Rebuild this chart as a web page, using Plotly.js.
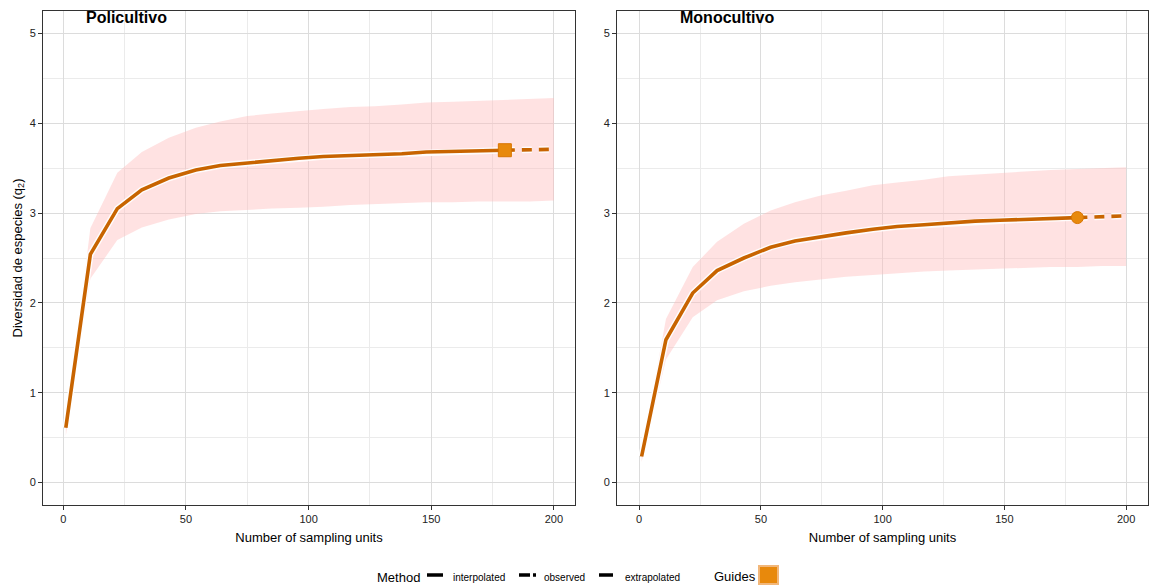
<!DOCTYPE html>
<html><head><meta charset="utf-8">
<script src="https://cdn.plot.ly/plotly-3.0.1.min.js"></script>
<style>html,body{margin:0;padding:0;background:#fff}#chart{width:1153px;height:586px}</style>
</head><body><div id="chart"></div>
<script>
// ---- data ----
const panelTitles = ['Policultivo', 'Monocultivo'];
const sizeInterp = [1, 11, 22, 32, 43, 54, 64, 75, 85, 96, 106, 117, 127, 138, 148, 159, 169, 180];
const sizeExtrap = [180, 190, 200];
const sizeBand = [1, 11, 22, 32, 43, 54, 64, 75, 85, 96, 106, 117, 127, 138, 148, 159, 169, 180, 190, 200];

const poliInterp = [0.61, 2.54, 3.05, 3.26, 3.39, 3.48, 3.53, 3.56, 3.59, 3.61, 3.63, 3.64, 3.65, 3.66, 3.68, 3.69, 3.70, 3.70];
const poliExtrap = [3.70, 3.71, 3.71];
const poliLower = [0.52, 2.27, 2.70, 2.84, 2.93, 2.99, 3.02, 3.04, 3.05, 3.06, 3.07, 3.09, 3.10, 3.11, 3.12, 3.12, 3.13, 3.13, 3.13, 3.14];
const poliUpper = [0.63, 2.83, 3.45, 3.68, 3.84, 3.95, 4.02, 4.08, 4.11, 4.14, 4.16, 4.18, 4.19, 4.21, 4.23, 4.24, 4.25, 4.26, 4.27, 4.28];

const monoInterp = [0.29, 1.59, 2.11, 2.36, 2.50, 2.62, 2.69, 2.74, 2.78, 2.82, 2.85, 2.87, 2.89, 2.91, 2.92, 2.93, 2.94, 2.95];
const monoExtrap = [2.95, 2.96, 2.97];
const monoLower = [0.23, 1.37, 1.84, 2.03, 2.13, 2.19, 2.23, 2.26, 2.29, 2.31, 2.33, 2.35, 2.36, 2.37, 2.38, 2.39, 2.40, 2.40, 2.41, 2.41];
const monoUpper = [0.33, 1.82, 2.40, 2.68, 2.88, 3.03, 3.12, 3.20, 3.25, 3.31, 3.34, 3.37, 3.41, 3.43, 3.45, 3.47, 3.48, 3.49, 3.50, 3.51];

const observedSize = [180, 180];
const observedValue = [3.70, 2.95];
const observedSymbol = ['square', 'circle'];

const xTickVals = [0, 50, 100, 150, 200];
const yTickVals = [0, 1, 2, 3, 4, 5];
const methodLabels = ['interpolated', 'observed', 'extrapolated'];
const legendTitle = 'Method';
const guidesTitle = 'Guides';
const xTitle = 'Number of sampling units';
const yTitle = 'Diversidad de especies (q<sub>2</sub>)';

// ---- style ----
const FONT = 'Liberation Sans, Arial, sans-serif';
const LINE = '#C86400';
const PT = '#E8890C';
const BAND = 'rgba(255,185,185,0.42)';

const W = 1153, H = 586, ML = 43, MR = 5, MT = 11, MB = 81;
const PW = W - ML - MR, PH = H - MT - MB;
const px2x = p => (p - ML) / PW;
const px2y = p => (H - MB - p) / PH;

const series = [
  {interp: poliInterp, extrap: poliExtrap, lo: poliLower, hi: poliUpper},
  {interp: monoInterp, extrap: monoExtrap, lo: monoLower, hi: monoUpper}
];

const traces = [];
series.forEach((s, i) => {
  const xa = i === 0 ? 'x' : 'x2', ya = i === 0 ? 'y' : 'y2';
  traces.push({x: sizeBand, y: s.lo, xaxis: xa, yaxis: ya, mode: 'lines', line: {width: 0, color: 'rgba(0,0,0,0)'}, showlegend: false, hoverinfo: 'skip'});
  traces.push({x: sizeBand, y: s.hi, xaxis: xa, yaxis: ya, mode: 'lines', fill: 'tonexty', fillcolor: BAND, line: {width: 0, color: 'rgba(0,0,0,0)'}, showlegend: false, hoverinfo: 'skip'});
  // white halo
  traces.push({x: sizeInterp, y: s.interp, xaxis: xa, yaxis: ya, mode: 'lines', line: {width: 6.5, color: 'rgba(255,255,255,0.9)'}, showlegend: false, hoverinfo: 'skip'});
  traces.push({x: sizeExtrap, y: s.extrap, xaxis: xa, yaxis: ya, mode: 'lines', line: {width: 6.5, color: 'rgba(255,255,255,0.9)', dash: '10px,7px'}, showlegend: false, hoverinfo: 'skip'});
  traces.push({x: sizeInterp, y: s.interp, xaxis: xa, yaxis: ya, mode: 'lines', name: methodLabels[0], line: {width: 3.6, color: LINE}, showlegend: false});
  traces.push({x: sizeExtrap, y: s.extrap, xaxis: xa, yaxis: ya, mode: 'lines', name: methodLabels[2], line: {width: 3.6, color: LINE, dash: '10px,7px'}, showlegend: false});
  traces.push({x: [observedSize[i]], y: [observedValue[i]], xaxis: xa, yaxis: ya, mode: 'markers', name: methodLabels[1],
    marker: {symbol: observedSymbol[i], size: i === 0 ? 13 : 12, color: PT, line: {color: '#D87400', width: 1}}, showlegend: false});
});

const axisCommon = {
  showline: true, mirror: true, linecolor: '#333', linewidth: 1,
  ticks: 'outside', ticklen: 4, tickcolor: '#333', tickwidth: 1,
  showgrid: true, gridcolor: '#dcdcdc', gridwidth: 1, zeroline: false,
  tickfont: {family: FONT, size: 11, color: '#222'}
};
const xaxisBase = Object.assign({}, axisCommon, {tickvals: xTickVals, minor: {dtick: 25, tick0: 0, showgrid: true, gridcolor: '#ebebeb', gridwidth: 1, ticks: ''}});
const yaxisBase = Object.assign({}, axisCommon, {tickvals: yTickVals, range: [-0.25, 5.25], minor: {dtick: 0.5, tick0: 0, showgrid: true, gridcolor: '#ebebeb', gridwidth: 1, ticks: ''}});

const layout = {
  width: W, height: H,
  margin: {l: ML, r: MR, t: MT, b: MB},
  paper_bgcolor: '#fff', plot_bgcolor: '#fff',
  font: {family: FONT, color: '#000'},
  showlegend: false,
  xaxis: Object.assign({}, xaxisBase, {domain: [0, px2x(575)], range: [-8.3, 208.6], anchor: 'y',
    title: {text: xTitle, font: {family: FONT, size: 13, color: '#000'}, standoff: 8}}),
  xaxis2: Object.assign({}, xaxisBase, {domain: [px2x(617), 1], range: [-9.1, 209], anchor: 'y2',
    title: {text: xTitle, font: {family: FONT, size: 13, color: '#000'}, standoff: 8}}),
  yaxis: Object.assign({}, yaxisBase, {domain: [0, 1], anchor: 'x',
    title: {text: yTitle, font: {family: FONT, size: 13, color: '#000'}, standoff: 4}}),
  yaxis2: Object.assign({}, yaxisBase, {domain: [0, 1], anchor: 'x2'}),
  annotations: [
    {text: '<b>' + panelTitles[0] + '</b>', xref: 'paper', yref: 'paper', x: px2x(126), y: px2y(18), showarrow: false, font: {family: FONT, size: 16, color: '#000'}, xanchor: 'center', yanchor: 'middle'},
    {text: '<b>' + panelTitles[1] + '</b>', xref: 'paper', yref: 'paper', x: px2x(727), y: px2y(18), showarrow: false, font: {family: FONT, size: 16, color: '#000'}, xanchor: 'center', yanchor: 'middle'},
    {text: legendTitle, xref: 'paper', yref: 'paper', x: px2x(375), y: px2y(577), showarrow: false, xanchor: 'left', yanchor: 'middle', font: {family: FONT, size: 13, color: '#000'}},
    {text: methodLabels[0], xref: 'paper', yref: 'paper', x: px2x(451), y: px2y(577), showarrow: false, xanchor: 'left', yanchor: 'middle', font: {family: FONT, size: 10, color: '#000'}},
    {text: methodLabels[1], xref: 'paper', yref: 'paper', x: px2x(542), y: px2y(577), showarrow: false, xanchor: 'left', yanchor: 'middle', font: {family: FONT, size: 10, color: '#000'}},
    {text: methodLabels[2], xref: 'paper', yref: 'paper', x: px2x(623), y: px2y(577), showarrow: false, xanchor: 'left', yanchor: 'middle', font: {family: FONT, size: 10, color: '#000'}},
    {text: guidesTitle, xref: 'paper', yref: 'paper', x: px2x(712), y: px2y(576), showarrow: false, xanchor: 'left', yanchor: 'middle', font: {family: FONT, size: 13, color: '#000'}}
  ],
  shapes: [
    {type: 'line', xref: 'paper', yref: 'paper', x0: px2x(427), x1: px2x(443), y0: px2y(575), y1: px2y(575), line: {color: '#000', width: 3.5}},
    {type: 'line', xref: 'paper', yref: 'paper', x0: px2x(519), x1: px2x(530), y0: px2y(575), y1: px2y(575), line: {color: '#000', width: 3.5}},
    {type: 'line', xref: 'paper', yref: 'paper', x0: px2x(533), x1: px2x(536), y0: px2y(575), y1: px2y(575), line: {color: '#000', width: 3.5}},
    {type: 'line', xref: 'paper', yref: 'paper', x0: px2x(599), x1: px2x(613), y0: px2y(575), y1: px2y(575), line: {color: '#000', width: 3.5}},
    {type: 'rect', xref: 'paper', yref: 'paper', x0: px2x(759), x1: px2x(778), y0: px2y(584), y1: px2y(566), fillcolor: PT, line: {color: '#F2B77A', width: 2}}
  ]
};

Plotly.newPlot('chart', traces, layout, {displayModeBar: false, staticPlot: true});
</script>
</body></html>
